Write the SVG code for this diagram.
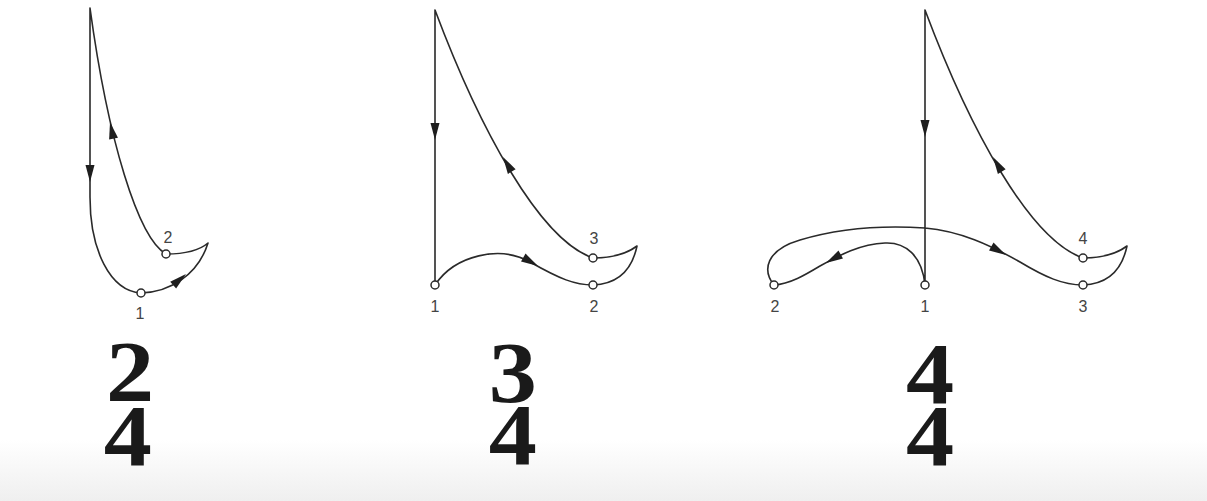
<svg xmlns="http://www.w3.org/2000/svg" xmlns:xlink="http://www.w3.org/1999/xlink" width="1207" height="501" viewBox="0 0 1207 501">
<style>
.ln{fill:none;stroke:#2a2a2a;stroke-width:1.6;stroke-linejoin:round;stroke-linecap:round}
.pt{fill:#fff;stroke:#2a2a2a;stroke-width:1.5}
.lb{font-family:"Liberation Sans",Arial,sans-serif;font-size:16px;fill:#444;text-anchor:middle}
.ts{font-family:"Liberation Serif","Times New Roman",serif;font-weight:bold;font-size:86px;fill:#1a1a1a;text-anchor:middle}
</style>
<defs>
<linearGradient id="bg" x1="0" y1="0" x2="0" y2="1">
<stop offset="0" stop-color="#ffffff"/>
<stop offset="1" stop-color="#efefef"/>
</linearGradient>
<path id="ah" d="M0,0 L-17,-4.5 L-17,4.5 Z" fill="#1e1e1e"/>
</defs>
<rect width="1207" height="501" fill="#fff"/>
<rect y="440" width="1207" height="61" fill="url(#bg)"/>

<g id="connectors">
<path class="ln" d="M90,8 L90,197 C90,250 110,291 141,293 C170,292 198,275 208,243 C200,250 185,254 166,254 C138,238 108,140 90,8"/>
<path class="ln" d="M435,10 L435,285 C455,255 500,245 530,262 C560,279 575,285 593,285 C618,284 632,270 637,246 C625,255 610,258 593,258 C540,240 480,130 435,10"/>
<path class="ln" d="M925,10 L925,285 C922,255 905,242 885,243 C860,244 840,255 820,266 C805,275 790,284 774,285 C762,270 766,250 800,240 C840,228 880,225 925,228 C960,231 990,245 1020,262 C1045,277 1063,285 1083,285 C1108,284 1122,270 1127,246 C1115,255 1100,258 1083,258 C1030,240 970,130 925,10"/>
<use xlink:href="#ah" transform="translate(90,182) rotate(90)"/>
<use xlink:href="#ah" transform="translate(186,274) rotate(-41)"/>
<use xlink:href="#ah" transform="translate(110,122) rotate(-102)"/>
<use xlink:href="#ah" transform="translate(435,140) rotate(90)"/>
<use xlink:href="#ah" transform="translate(538,266) rotate(30)"/>
<use xlink:href="#ah" transform="translate(503,157) rotate(-121)"/>
<use xlink:href="#ah" transform="translate(925,137) rotate(90)"/>
<use xlink:href="#ah" transform="translate(826,263) rotate(150)"/>
<use xlink:href="#ah" transform="translate(1006,255) rotate(30)"/>
<use xlink:href="#ah" transform="translate(993,157) rotate(-121)"/>
</g>

<g id="fig1-p1"><circle class="pt" cx="141" cy="293" r="4"/><text class="lb" x="140" y="319">1</text></g>
<g id="fig1-p2"><circle class="pt" cx="166" cy="254" r="4"/><text class="lb" x="168" y="243">2</text></g>

<g id="fig2-p1"><circle class="pt" cx="435" cy="285" r="4"/><text class="lb" x="435" y="312">1</text></g>
<g id="fig2-p2"><circle class="pt" cx="593" cy="285" r="4"/><text class="lb" x="594" y="312">2</text></g>
<g id="fig2-p3"><circle class="pt" cx="593" cy="258" r="4"/><text class="lb" x="594" y="244">3</text></g>

<g id="fig3-p1"><circle class="pt" cx="925" cy="285" r="4"/><text class="lb" x="925" y="312">1</text></g>
<g id="fig3-p2"><circle class="pt" cx="774" cy="285" r="4"/><text class="lb" x="775" y="312">2</text></g>
<g id="fig3-p3"><circle class="pt" cx="1083" cy="285" r="4"/><text class="lb" x="1083" y="312">3</text></g>
<g id="fig3-p4"><circle class="pt" cx="1083" cy="258" r="4"/><text class="lb" x="1083" y="244">4</text></g>

<g id="ts-24" transform="matrix(1.12 0 0 1 -15.5 0)"><text class="ts"><tspan x="130" y="401">2</tspan><tspan x="128" y="465">4</tspan></text></g>
<g id="ts-34" transform="matrix(1.12 0 0 1 -61.6 0)"><text class="ts"><tspan x="513" y="402">3</tspan><tspan x="513" y="464">4</tspan></text></g>
<g id="ts-44" transform="matrix(1.12 0 0 1 -111.6 0)"><text class="ts"><tspan x="930" y="403">4</tspan><tspan x="930" y="465">4</tspan></text></g>
</svg>
